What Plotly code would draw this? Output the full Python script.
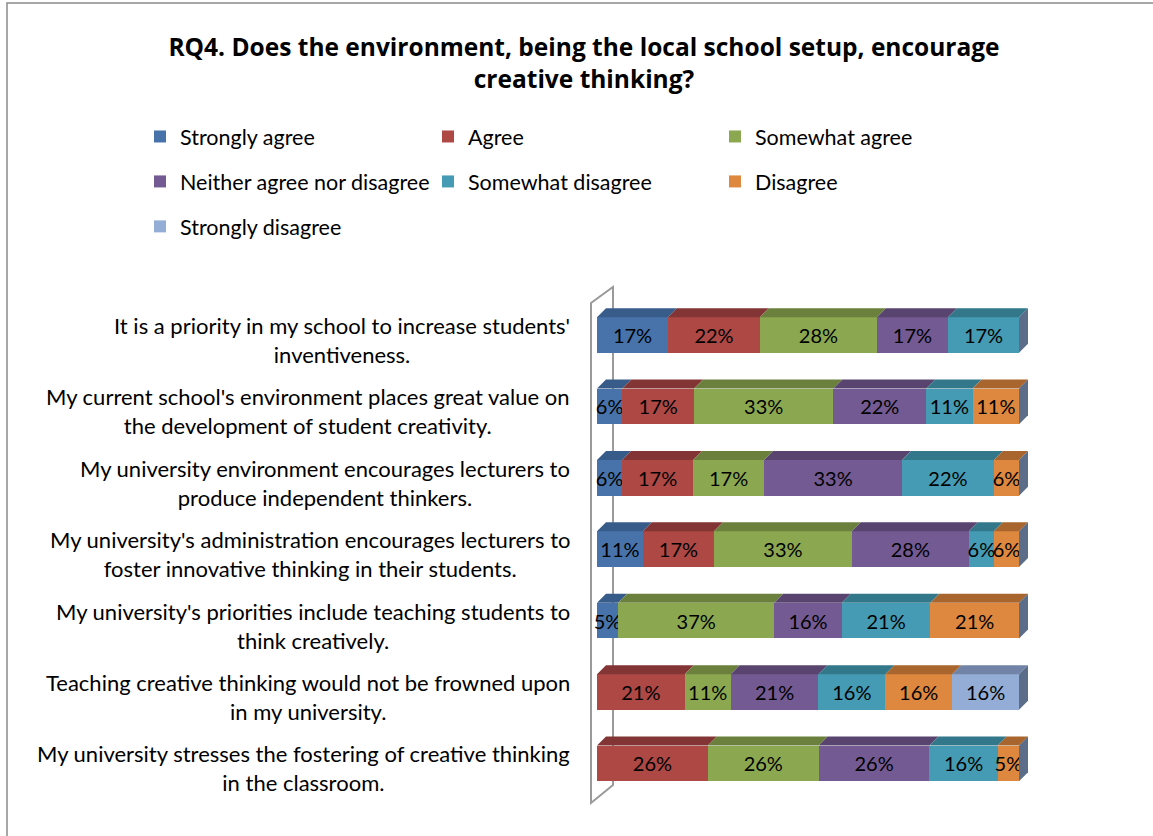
import plotly.graph_objects as go

# ---- data -------------------------------------------------------------
statements = [
    "It is a priority in my school to increase students'<br>inventiveness.",
    "My current school's environment places great value on<br>the development of student creativity.",
    "My university environment encourages lecturers to<br>produce independent thinkers.",
    "My university's administration encourages lecturers to<br>foster innovative thinking in their students.",
    "My university's priorities include teaching students to<br>think creatively.",
    "Teaching creative thinking would not be frowned upon<br>in my university.",
    "My university stresses the fostering of creative thinking<br>in the classroom.",
]
responses = ["Strongly agree", "Agree", "Somewhat agree", "Neither agree nor disagree",
             "Somewhat disagree", "Disagree", "Strongly disagree"]

strongly_agree = [17, 6, 6, 11, 5, 0, 0]
agree = [22, 17, 17, 17, 0, 21, 26]
somewhat_agree = [28, 33, 17, 33, 37, 11, 26]
neither = [17, 22, 33, 28, 16, 21, 26]
somewhat_disagree = [17, 11, 22, 6, 21, 16, 16]
disagree = [0, 11, 6, 6, 21, 16, 5]
strongly_disagree = [0, 0, 0, 0, 0, 16, 0]

series = [strongly_agree, agree, somewhat_agree, neither,
          somewhat_disagree, disagree, strongly_disagree]

# ---- styling ----------------------------------------------------------
FONT = "Lato, Carlito, Calibri, sans-serif"
TITLE_FONT = "'Open Sans', Carlito, Calibri, sans-serif"
front_colors = ["#4773AA", "#AD4845", "#8BA850", "#735A92", "#449BB3", "#DE873F", "#94ADD6"]
top_colors = ["#385C8A", "#823534", "#6A803C", "#58446F", "#32778A", "#A8652D", "#7183A6"]
end_color = "#5B6D88"
legend_slot = ["legend", "legend2", "legend3", "legend", "legend2", "legend3", "legend"]

W, H = 1153, 836
L, R, T, B = 580, 1040, 280, 815          # plot-area edges (px)
X0_PX, X100_PX = 597, 1019                 # 0 % and 100 % on the value axis
ROW0_PX, ROW_STEP = 335, 71.4              # first row centre and row pitch
PPX = (X100_PX - X0_PX) / 100.0
BAR_W = 0.5
DX = 9 / PPX                               # 3-D depth, in data units
DY = 9 / ROW_STEP


def dx(px):
    return (px - X0_PX) / PPX


def dy(py):
    return (py - ROW0_PX) / ROW_STEP


def paper_x(px):
    return (px - L) / (R - L)


def paper_y(py):
    return (B - py) / (B - T)


rows = list(range(len(statements)))
fig = go.Figure()

for k, (name, vals) in enumerate(zip(responses, series)):
    fig.add_trace(go.Bar(
        name=name,
        y=rows,
        x=vals,
        orientation="h",
        width=BAR_W,
        marker=dict(color=front_colors[k], line=dict(width=0)),
        text=[f"{v}%" if v else "" for v in vals],
        textposition="inside",
        insidetextanchor="middle",
        textangle=0,
        constraintext="none",
        insidetextfont=dict(family=FONT, size=20, color="black"),
        legend=legend_slot[k],
        legendgroup=name,
        hoverinfo="name+x",
    ))

# ---- 3-D faces: top of every segment and the right-hand end cap -------
shapes = []
for i in rows:
    total = sum(s[i] for s in series)
    yt = i - BAR_W / 2
    yb = i + BAR_W / 2
    cum = 0.0
    for k, s in enumerate(series):
        v = s[i]
        if v == 0:
            continue
        x0 = cum / total * 100
        cum += v
        x1 = cum / total * 100
        path = (f"M{x0},{yt} L{x1},{yt} L{x1 + DX},{yt - DY} "
                f"L{x0 + DX},{yt - DY} Z")
        shapes.append(dict(type="path", path=path, xref="x", yref="y",
                           fillcolor=top_colors[k], line=dict(width=0), layer="above"))
    shapes.append(dict(type="path",
                       path=(f"M100,{yt} L{100 + DX},{yt - DY} L{100 + DX},{yb - DY} "
                             f"L100,{yb} Z"),
                       xref="x", yref="y", fillcolor=end_color,
                       line=dict(width=0), layer="above"))

# back wall of the category axis
wall = (f"M{dx(591)},{dy(303)} L{dx(591)},{dy(803)} L{dx(613)},{dy(785)} "
        f"L{dx(613)},{dy(287)} Z")
shapes.append(dict(type="path", path=wall, xref="x", yref="y",
                   line=dict(color="#9A9A9A", width=2), layer="below"))

# chart-area frame
shapes.append(dict(type="rect", xref="paper", yref="paper",
                   x0=paper_x(7), y0=paper_y(850), x1=paper_x(1165), y1=paper_y(3),
                   line=dict(color="#8A8A8A", width=1.5), layer="below"))

# ---- category labels ---------------------------------------------------
annotations = []
for i, txt in enumerate(statements):
    annotations.append(dict(
        text=txt, xref="paper", yref="y", x=paper_x(572), y=i,
        xanchor="right", yanchor="middle", align="center", showarrow=False,
        yshift=-5, font=dict(family=FONT, size=22, color="black")))

legend_common = dict(xref="container", yref="container", xanchor="left", yanchor="top",
                     orientation="v", traceorder="grouped", tracegroupgap=14,
                     font=dict(family=FONT, size=21.5, color="black"),
                     bgcolor="rgba(0,0,0,0)", borderwidth=0)

fig.update_layout(
    width=W, height=H, autosize=False,
    margin=dict(l=L, r=W - R, t=T, b=H - B, pad=0, autoexpand=False),
    paper_bgcolor="white", plot_bgcolor="rgba(0,0,0,0)",
    barmode="stack", barnorm="percent",
    title=dict(text="<b>RQ4. Does the environment, being the local school setup, encourage<br>creative thinking?</b>",
               xref="container", yref="container", x=584 / W, xanchor="center",
               y=1 - 56 / H, yanchor="top",
               font=dict(family=TITLE_FONT, size=24.5, color="black")),
    xaxis=dict(range=[dx(L), dx(R)], visible=False, fixedrange=True),
    yaxis=dict(range=[dy(B), dy(T)], visible=False, fixedrange=True),
    shapes=shapes,
    annotations=annotations,
    legend=dict(x=140 / W, y=1 - 116 / H, **legend_common),
    legend2=dict(x=428 / W, y=1 - 116 / H, **legend_common),
    legend3=dict(x=715 / W, y=1 - 116 / H, **legend_common),
    font=dict(family=FONT, size=20, color="black"),
)

fig.write_html("out.html")
